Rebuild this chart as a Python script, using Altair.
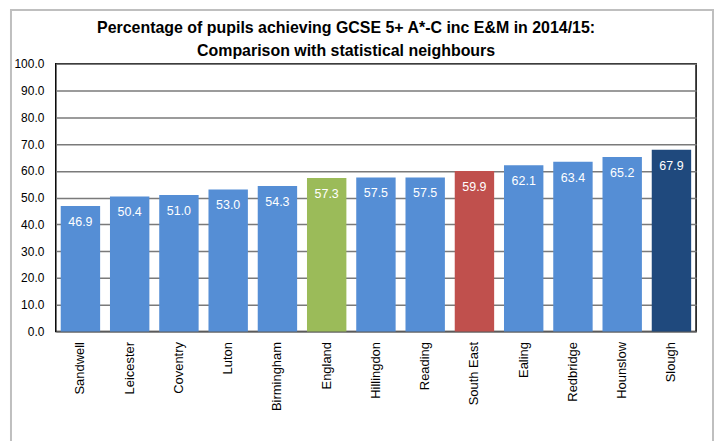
import altair as alt
import pandas as pd

areas = ["Sandwell", "Leicester", "Coventry", "Luton", "Birmingham", "England",
         "Hillingdon", "Reading", "South East", "Ealing", "Redbridge", "Hounslow", "Slough"]
values = [46.9, 50.4, 51.0, 53.0, 54.3, 57.3, 57.5, 57.5, 59.9, 62.1, 63.4, 65.2, 67.9]
bar_colors = ["#558ED5", "#558ED5", "#558ED5", "#558ED5", "#558ED5", "#9BBB59",
              "#558ED5", "#558ED5", "#C0504D", "#558ED5", "#558ED5", "#558ED5", "#1F497D"]
y_ticks = [0, 10, 20, 30, 40, 50, 60, 70, 80, 90, 100]
title_lines = ["Percentage of pupils achieving GCSE  5+ A*-C inc E&M in 2014/15:",
               "Comparison with statistical neighbours"]

df = pd.DataFrame({"area": areas, "value": values, "color": bar_colors,
                   "label": [f"{v:.1f}" for v in values]})

FONT = "Liberation Sans"

x = alt.X("area:N", sort=areas,
          scale=alt.Scale(paddingInner=0.2, paddingOuter=0.1),
          axis=alt.Axis(title=None, labelAngle=-90, labelAlign="right", labelBaseline="middle",
                        ticks=False, domain=False, labelPadding=10, labelFontSize=13,
                        labelFont=FONT, labelColor="#000000"))
y = alt.Y("value:Q", scale=alt.Scale(domain=[0, 100]),
          axis=alt.Axis(title=None, values=y_ticks, format=".1f", ticks=False, domain=False,
                        labelPadding=12, labelFontSize=12, labelFont=FONT, labelColor="#000000",
                        labelOverlap=False,
                        grid=True, gridColor="#7a7a7a", gridWidth=1.5))

base = alt.Chart(df)

bars = base.mark_bar().encode(x=x, y=y, color=alt.Color("color:N", scale=None))
texts = base.mark_text(color="white", baseline="middle", dy=16, fontSize=12.5, font=FONT).encode(
    x=x, y=y, text="label:N")

border = alt.Chart(alt.Data(values=[{"a": 1}])).mark_rect(
    filled=False, stroke="#bfbfbf", strokeWidth=2).encode(
    x=alt.value(-45), x2=alt.value(660), y=alt.value(-54), y2=alt.value(400))

chart = alt.layer(border, bars, texts).properties(
    width=643, height=269,
    title=alt.Title(text=title_lines, fontSize=16, font=FONT, fontWeight="bold",
                    anchor="middle", dx=-30, offset=-50, lineHeight=23, color="#000000"),
    autosize=alt.AutoSizeParams(type="none"),
    padding={"left": 48, "top": 55, "right": 19, "bottom": 109},
).configure_view(stroke="#000000", strokeWidth=1.5)

chart.save("out.html", embed_options={"renderer": "svg", "actions": False})
